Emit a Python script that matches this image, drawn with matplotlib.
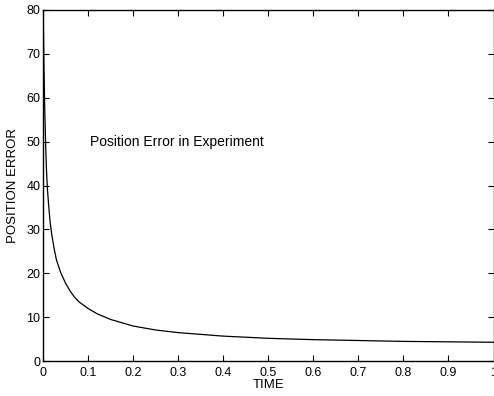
import matplotlib
matplotlib.use("Agg")
import matplotlib.pyplot as plt

time = [0.0, 0.0005, 0.002, 0.004, 0.006, 0.008, 0.010, 0.013, 0.016, 0.02, 0.025, 0.03, 0.04,
        0.05, 0.06, 0.07, 0.08, 0.10, 0.12, 0.15, 0.20, 0.25, 0.30, 0.35, 0.40, 0.50,
        0.60, 0.70, 0.80, 0.90, 1.00]
error = [0.0, 80.0, 68.0, 57.0, 49.0, 43.0, 39.0, 35.0, 31.5, 28.5, 25.5, 23.0, 20.0,
         17.8, 16.0, 14.6, 13.5, 12.0, 10.8, 9.5, 8.0, 7.1, 6.5, 6.1, 5.7, 5.2,
         4.9, 4.7, 4.5, 4.4, 4.3]

xticks = [0, 0.1, 0.2, 0.3, 0.4, 0.5, 0.6, 0.7, 0.8, 0.9, 1.0]
xticklabels = ["0", "0.1", "0.2", "0.3", "0.4", "0.5", "0.6", "0.7", "0.8", "0.9", "1"]
yticks = [0, 10, 20, 30, 40, 50, 60, 70, 80]

plt.rcParams['font.family'] = ['Liberation Sans', 'DejaVu Sans']

fig = plt.figure(figsize=(4.94, 3.96), dpi=100)
ax = fig.add_axes([0.087, 0.088, 0.912, 0.887])
ax.plot(time, error, color='black', linewidth=0.9)
ax.set_xlim(0, 1)
ax.set_ylim(0, 80)
ax.set_xticks(xticks)
ax.set_xticklabels(xticklabels)
ax.set_yticks(yticks)
ax.tick_params(direction='in', top=True, right=True, length=4, labelsize=9)
ax.tick_params(axis='x', pad=4)
ax.tick_params(axis='y', pad=2)
for s in ax.spines.values():
    s.set_linewidth(1.0)
ax.set_xlabel("TIME", fontsize=9.5, labelpad=0)
ax.set_ylabel("POSITION ERROR", fontsize=9.5, labelpad=5)
ax.text(0.105, 50, "Position Error in Experiment", fontsize=10, va='center', ha='left')
fig.savefig("out.png", dpi=100)
